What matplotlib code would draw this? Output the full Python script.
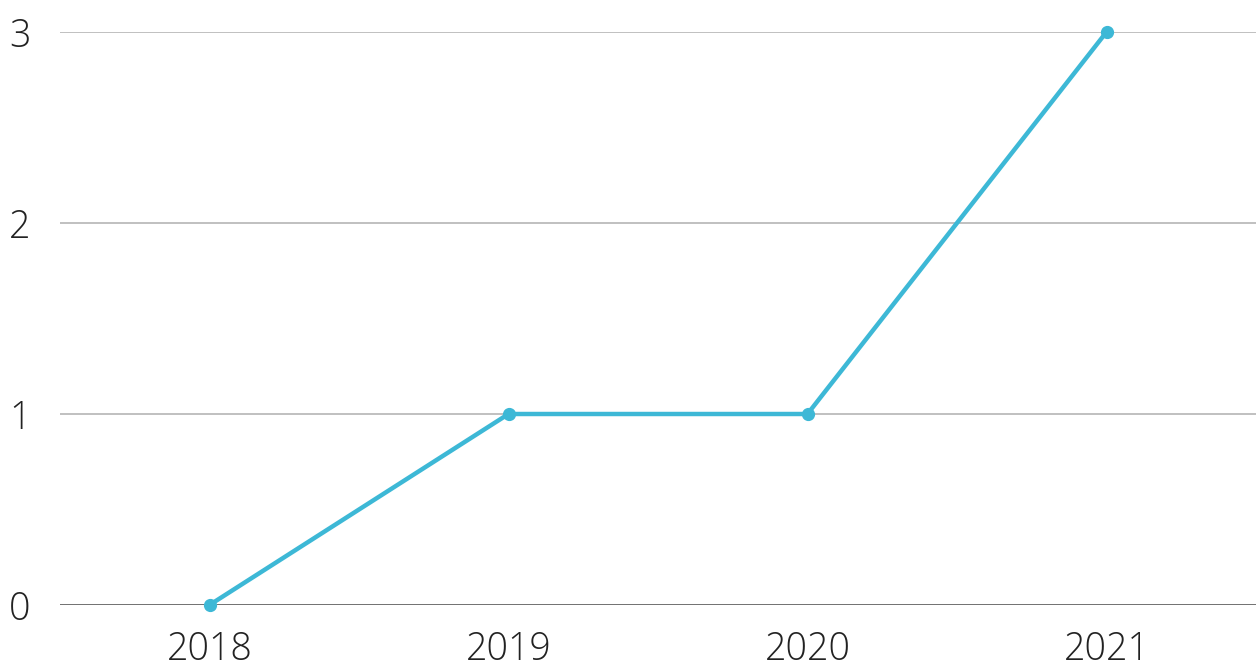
import matplotlib
matplotlib.use("Agg")
import matplotlib.pyplot as plt

years = ["2018", "2019", "2020", "2021"]
values = [0, 1, 1, 3]
y_ticks = [0, 1, 2, 3]

plt.rcParams["font.family"] = ["Open Sans", "DejaVu Sans"]

fig = plt.figure(figsize=(12.56, 6.66), dpi=100)
ax = fig.add_axes([60 / 1256, 1 - 605 / 666, 1196 / 1256, (605 - 32) / 666])

x = list(range(len(years)))
ax.plot(x, values, color="#3db8d6", linewidth=3.2, marker="o", markersize=8.5,
        clip_on=False, zorder=3)

ax.set_xlim(-0.5, len(years) - 0.5)
ax.set_ylim(0, 3)
ax.set_xticks(x)
ax.set_xticklabels(years)
ax.set_yticks(y_ticks)

for y in y_ticks:
    ax.axhline(y, color="#666666" if y == 0 else "#bbbbbb", linewidth=1.3, zorder=1)

for s in ax.spines.values():
    s.set_visible(False)
ax.tick_params(length=0, labelsize=27, labelcolor="#222222")
ax.tick_params(axis="y", pad=21)
ax.tick_params(axis="x", pad=18)
for lbl in ax.get_xticklabels() + ax.get_yticklabels():
    lbl.set_fontweight("light")

fig.savefig("out.png", dpi=100)
